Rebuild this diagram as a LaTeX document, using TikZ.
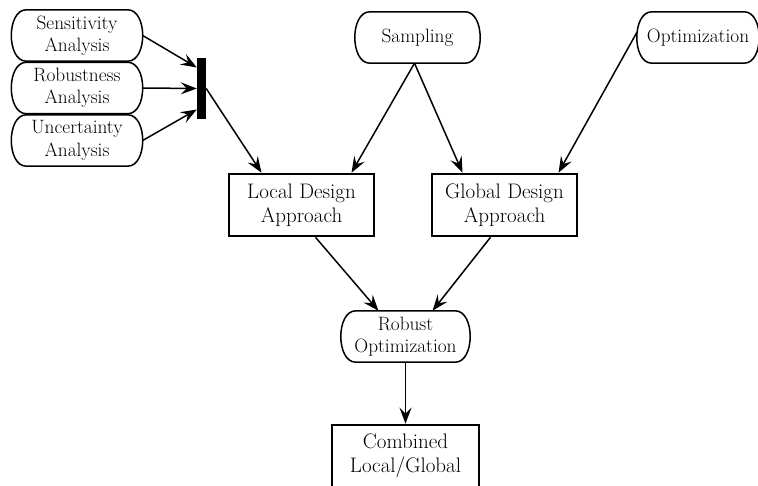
\documentclass[tikz,border=0pt]{standalone}
\usepackage{fontspec}
\usetikzlibrary{arrows.meta,calc}
\begin{document}
\begin{tikzpicture}[x=1pt,y=-1pt,
  pill/.style={minimum width=#1, minimum height=51pt, inner sep=0pt,
    align=center, font=\fontsize{19.3}{22.5}\selectfont},
  pillline/.style={line width=1.5pt},
  stage/.style={draw, line width=2.6pt, minimum width=145pt, minimum height=62pt,
    inner sep=0pt, align=center, font=\fontsize{21}{24}\selectfont},
  joinbar/.style={fill=black, draw=none, minimum width=9pt, minimum height=61pt, inner sep=0pt},
  flow/.style={line width=1.5pt, -{Stealth[length=16pt,width=12pt,inset=6pt]}}]
\useasboundingbox (0,0) rectangle (758,486);
\clip (0,0) rectangle (758,486);

% analysis inputs
\node[pill=131pt] (sens) at (77,35.5) {Sensitivity\\Analysis};
\node[pill=131pt] (rob)  at (77,88)   {Robustness\\Analysis};
\node[pill=131pt] (unc)  at (77,140.5){Uncertainty\\Analysis};
\node[joinbar] (bar) at (201.5,88.5) {};

% top level methods
\node[pill=125pt] (samp) at (417.5,37.5) {Sampling};
\node[pill=122pt] (opt)  at (698,37.5)   {Optimization};

% design approaches
\node[stage] (local)  at (301.5,205) {Local Design\\Approach};
\node[stage] (global) at (504.5,205) {Global Design\\Approach};

\node[pill=129pt] (robopt) at (405.5,336.5) {Robust\\Optimization};
\node[stage, minimum width=147pt] (comb) at (405.5,456) {Combined\\Local/Global};

% outlines with curved sides
\foreach \n in {sens,rob,unc,samp,opt,robopt}{
  \draw[pillline]
    ($(\n.north west)+(15,0)$) -- ($(\n.north east)+(-15,0)$)
    .. controls ($(\n.north east)+(5,0)$) and ($(\n.south east)+(5,0)$) ..
    ($(\n.south east)+(-15,0)$) -- ($(\n.south west)+(15,0)$)
    .. controls ($(\n.south west)+(-5,0)$) and ($(\n.north west)+(-5,0)$) ..
    cycle;
}

% connectors
\draw[flow] (sens.east) -- ([yshift=21pt]bar.west);
\draw[flow] (rob.east) -- (bar.west);
\draw[flow] (unc.east) -- ([yshift=-21pt]bar.west);
\draw[flow] (bar.east) -- ([xshift=-40pt]local.north);
\draw[flow] ([xshift=-3pt]samp.south) -- ([xshift=50pt]local.north);
\draw[flow] ([xshift=-3pt]samp.south) -- ([xshift=-42pt]global.north);
\draw[flow] ([yshift=5pt]opt.west) -- ([xshift=54pt]global.north);
\draw[flow] ([xshift=14pt]local.south) -- ([xshift=-27pt]robopt.north);
\draw[flow] ([xshift=-14pt]global.south) -- ([xshift=27pt]robopt.north);
\draw[flow] (robopt.south) -- (comb.north);
\end{tikzpicture}
\end{document}
